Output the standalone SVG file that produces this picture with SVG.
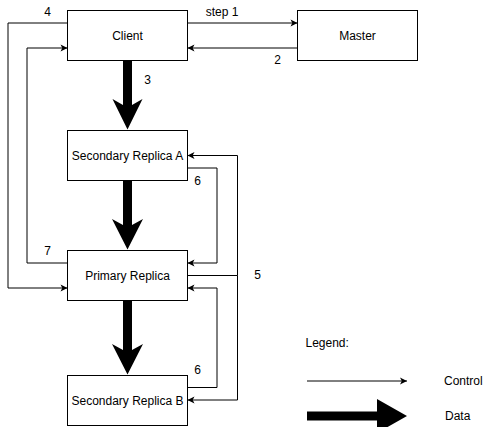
<svg xmlns="http://www.w3.org/2000/svg" width="488" height="427" viewBox="0 0 488 427">
<defs>
<marker id="ah" markerWidth="8" markerHeight="8" viewBox="-8 -4 8 8" refX="0" refY="0" orient="auto" markerUnits="userSpaceOnUse">
<path d="M0,0 L-7,-3.5 L-5.2,0 L-7,3.5 Z" fill="#000"/>
</marker>
<style>
.box{fill:#fff;stroke:#000;stroke-width:1}
.t{font-family:"Liberation Sans",Arial,sans-serif;font-size:12px;fill:#000}
.c{text-anchor:middle}
.ln{fill:none;stroke:#000;stroke-width:1;marker-end:url(#ah)}
.thick{fill:#000;stroke:none}
</style>
</defs>
<rect width="488" height="427" fill="#fff"/>
<g id="connectors">
<path class="ln" d="M187.5,23 H297.5"/>
<path class="ln" d="M297.5,48 H187.5"/>
<path class="ln" d="M67.5,23 H8 V288 H67.5"/>
<path class="ln" d="M67.5,263 H27 V48 H67.5"/>
<path class="ln" d="M187.5,275.5 H237.5 V155.5 H187.5"/>
<path class="ln" d="M237.5,275.5 V400 H187.5"/>
<path class="ln" d="M187.5,168 H217 V263 H187.5"/>
<path class="ln" d="M187.5,387.5 H217 V288 H187.5"/>
<path class="thick" d="M123,60.5 H132 V105 L142.5,99 L127.5,129.5 L112.5,99 L123,105 Z"/>
<path class="thick" d="M123,180.5 H132 V225 L143,219 L127.5,249.5 L112,219 L123,225 Z"/>
<path class="thick" d="M123,300.5 H132 V350 L143,344 L127.5,374.5 L112,344 L123,350 Z"/>
<text class="t c" x="222" y="16">step 1</text>
<text class="t c" x="277.5" y="64">2</text>
<text class="t c" x="47.5" y="16">4</text>
<text class="t c" x="147.5" y="84">3</text>
<text class="t c" x="197.5" y="185">6</text>
<text class="t c" x="47.5" y="255">7</text>
<text class="t c" x="257.5" y="279">5</text>
<text class="t c" x="197.5" y="374">6</text>
</g>
<g id="client"><rect class="box" x="67.5" y="10.5" width="120" height="50"/><text class="t c" x="127.5" y="39.5">Client</text></g>
<g id="master"><rect class="box" x="297.5" y="10.5" width="120" height="50"/><text class="t c" x="357.5" y="39.5">Master</text></g>
<g id="secondaryA"><rect class="box" x="67.5" y="130.5" width="120" height="50"/><text class="t c" x="127.5" y="159.5">Secondary Replica A</text></g>
<g id="primary"><rect class="box" x="67.5" y="250.5" width="120" height="50"/><text class="t c" x="127.5" y="279.5">Primary Replica</text></g>
<g id="secondaryB"><rect class="box" x="67.5" y="375.5" width="120" height="50"/><text class="t c" x="127.5" y="404.5">Secondary Replica B</text></g>
<g id="legend">
<text class="t" x="305.5" y="347">Legend:</text>
<path class="ln" d="M307,381 H407"/>
<text class="t" x="444" y="385">Control</text>
<path class="thick" d="M307,411.5 H377 V399 L407,416 L377,433 V420.5 H307 Z"/>
<text class="t" x="445" y="420">Data</text>
</g>
</svg>
